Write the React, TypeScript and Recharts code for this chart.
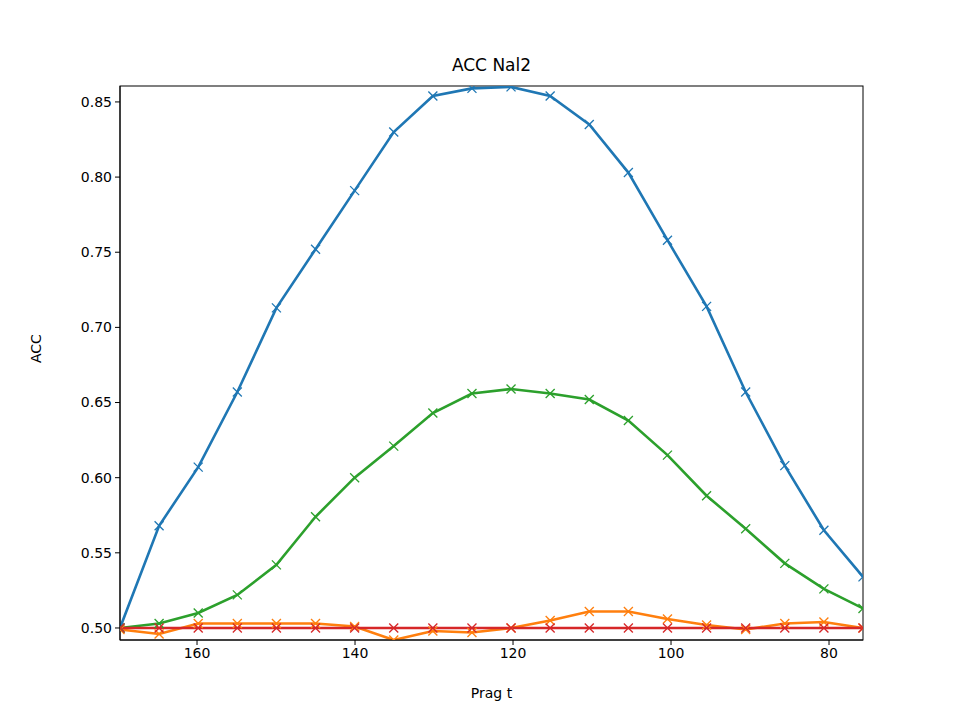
import React from "react";
import { LineChart, Line, XAxis, YAxis } from "recharts";

const xs = [169.75, 164.8, 159.85, 154.9, 149.95, 145.0, 140.05, 135.1, 130.15, 125.2, 120.25, 115.3, 110.35, 105.4, 100.45, 95.5, 90.55, 85.6, 80.65, 75.7];
const blue = [0.5, 0.568, 0.607, 0.657, 0.713, 0.752, 0.791, 0.83, 0.854, 0.859, 0.86, 0.854, 0.835, 0.803, 0.758, 0.714, 0.657, 0.608, 0.565, 0.534];
const green = [0.5, 0.503, 0.51, 0.522, 0.542, 0.574, 0.6, 0.621, 0.643, 0.656, 0.659, 0.656, 0.652, 0.638, 0.615, 0.588, 0.566, 0.543, 0.526, 0.513];
const orange = [0.499, 0.496, 0.503, 0.503, 0.503, 0.503, 0.501, 0.492, 0.498, 0.497, 0.5, 0.505, 0.511, 0.511, 0.506, 0.502, 0.499, 0.503, 0.504, 0.5];
const red = [0.5, 0.5, 0.5, 0.5, 0.5, 0.5, 0.5, 0.5, 0.5, 0.5, 0.5, 0.5, 0.5, 0.5, 0.5, 0.5, 0.5, 0.5, 0.5, 0.5];
const xTicks = [160, 140, 120, 100, 80];
const yTicks = [0.5, 0.55, 0.6, 0.65, 0.7, 0.75, 0.8, 0.85];

const data = xs.map((x, i) => ({ x, blue: blue[i], green: green[i], orange: orange[i], red: red[i] }));

const Cross = (color: string) => (p: any) => {
  const { cx, cy, index } = p;
  if (cx == null || cy == null) return <g key={index} />;
  const s = 4.5;
  return (
    <g key={index}>
      <line x1={cx - s} y1={cy - s} x2={cx + s} y2={cy + s} stroke={color} strokeWidth={1.3} />
      <line x1={cx - s} y1={cy + s} x2={cx + s} y2={cy - s} stroke={color} strokeWidth={1.3} />
    </g>
  );
};

const font = "DejaVu Sans, sans-serif";
const series: [string, string][] = [["blue", "#1f77b4"], ["orange", "#ff7f0e"], ["green", "#2ca02c"], ["red", "#d62728"]];

export default function App() {
  return (
    <div style={{ position: "absolute", left: 0, top: 0, width: 960, height: 720, background: "#fff", fontFamily: font }}>
      <div style={{ position: "absolute", top: 55, left: 120, width: 743, textAlign: "center", fontSize: 17, color: "#000" }}>ACC Nal2</div>
      <LineChart width={960} height={720} data={data} margin={{ top: 86, right: 97, left: 0, bottom: 0 }}>
        <rect x={120} y={86} width={743} height={554} fill="none" stroke="#000" strokeWidth={1} />
        <XAxis dataKey="x" type="number" domain={[75.7, 169.75]} reversed ticks={xTicks} allowDataOverflow
          height={80} tickSize={5} tick={{ fill: "#000", fontSize: 14, fontFamily: font }} tickMargin={3}
          axisLine={{ stroke: "#000" }} tickLine={{ stroke: "#000" }}
          label={{ value: "Prag t", position: "insideBottom", offset: 22, fill: "#000", fontSize: 14, fontFamily: font }} />
        <YAxis type="number" domain={[0.492, 0.8606]} ticks={yTicks} allowDataOverflow width={120}
          tickFormatter={(v: number) => v.toFixed(2)} tickSize={5} tickMargin={3}
          tick={{ fill: "#000", fontSize: 14, fontFamily: font }}
          axisLine={{ stroke: "#000" }} tickLine={{ stroke: "#000" }}
          label={{ value: "ACC", angle: -90, position: "insideLeft", offset: 36, fill: "#000", fontSize: 14, fontFamily: font }} />
        {series.map(([k, c]) => (
          <Line key={k} dataKey={k} stroke={c} strokeWidth={2.6} dot={Cross(c)} isAnimationActive={false} type="linear" />
        ))}
      </LineChart>
    </div>
  );
}
